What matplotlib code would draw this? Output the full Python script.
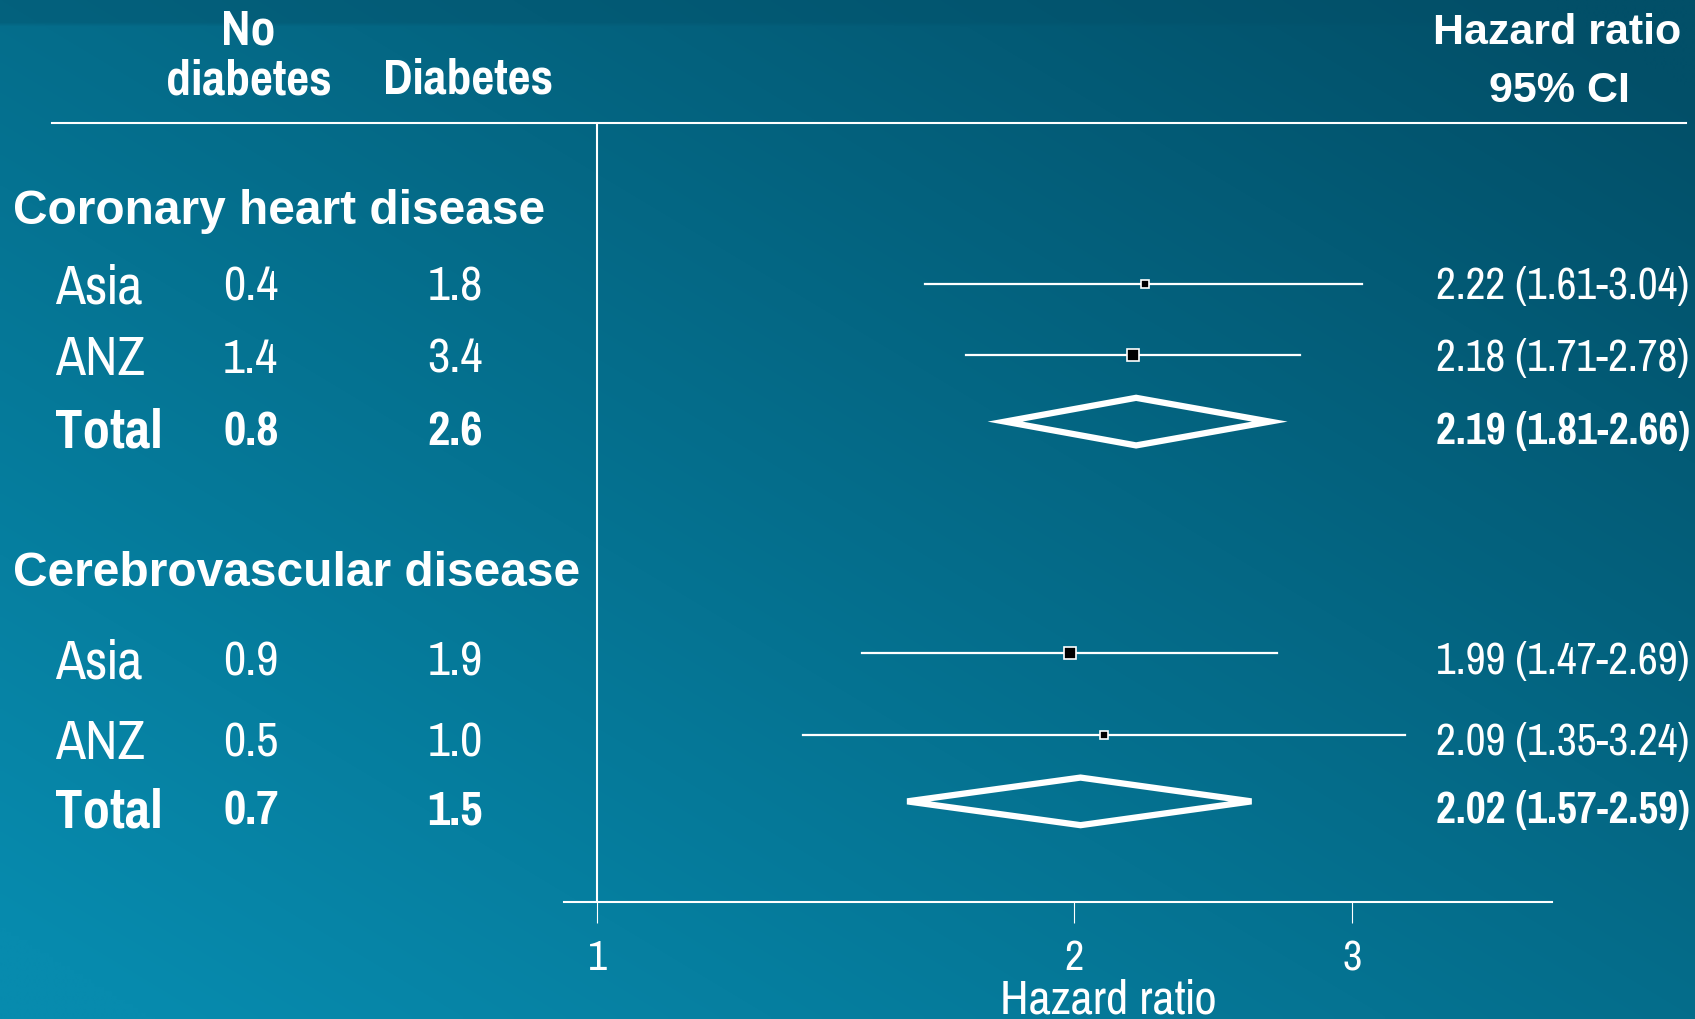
import matplotlib
matplotlib.use("Agg")
import matplotlib.pyplot as plt
import numpy as np
from matplotlib import font_manager as fm
from matplotlib.patches import Polygon

# Data
groups = ['Coronary heart disease', 'Cerebrovascular disease']
regions = ['Asia', 'ANZ', 'Total', 'Asia', 'ANZ', 'Total']
rate_no_diab = [0.4, 1.4, 0.8, 0.9, 0.5, 0.7]
rate_diab = [1.8, 3.4, 2.6, 1.9, 1.0, 1.5]
hr = [2.22, 2.18, 2.19, 1.99, 2.09, 2.02]
hr_lo = [1.61, 1.71, 1.81, 1.47, 1.35, 1.57]
hr_hi = [3.04, 2.78, 2.66, 2.69, 3.24, 2.59]
is_total = [False, False, True, False, False, True]
x_ticks = [1, 2, 3]

# Layout (reference units, 1568 x 944, y down)
W, H = 1568, 944
group_y = [192, 527]
row_y = [264, 329, 391, 605, 681, 742]
label_y = [262, 329, 396, 609, 684, 747]
marker_pt = [5.5, 8.5, 0, 8.5, 5.5, 0]


def pick_narrow():
    # an Arial Narrow look-alike that has both regular and bold faces
    have = {}
    for f in fm.fontManager.ttflist:
        have.setdefault(f.name, set()).add(f.weight if isinstance(f.weight, int) else 400)
    for name in ['Liberation Sans Narrow', 'Arial Narrow', 'Nimbus Sans Narrow',
                 'Pragati Narrow', 'PT Sans Narrow', 'Roboto Condensed',
                 'Archivo Narrow', 'Barlow Semi Condensed']:
        w = have.get(name, set())
        if any(x >= 700 for x in w) and any(x <= 500 for x in w):
            return name
    return 'Liberation Sans'


narrow = pick_narrow()
wide = 'Liberation Sans'
white = 'white'

fig = plt.figure(figsize=(16.95, 10.2), dpi=100)

# Background gradient
bg = fig.add_axes([0, 0, 1, 1])
u = np.linspace(0, 1, 400)[None, :]
v = np.linspace(0, 1, 240)[:, None]
t = np.clip(1.0 - 0.55 * u - 0.55 * (1 - v) + 0.05, 0, 1)
t[:6, :] *= 0.6
dark = np.array([0x02, 0x4f, 0x68]) / 255
light = np.array([0x07, 0x8b, 0xae]) / 255
img = dark + (light - dark) * t[..., None]
bg.imshow(img, extent=(0, W, H, 0), aspect='auto', interpolation='bilinear')
bg.set_xlim(0, W)
bg.set_ylim(H, 0)
bg.axis('off')

# Header
bg.plot([48, 1560], [115, 115], color=white, lw=1.5)
bg.text(230, 29, 'No', family=narrow, weight='bold', size=39, color=white, ha='center', va='center')
bg.text(230, 75, 'diabetes', family=narrow, weight='bold', size=39, color=white, ha='center', va='center')
bg.text(433, 74, 'Diabetes', family=narrow, weight='bold', size=39, color=white, ha='center', va='center')
bg.text(1440, 31, 'Hazard ratio', family=wide, weight='bold', size=31, color=white, ha='center', va='center')
bg.text(1443, 84, '95% CI', family=wide, weight='bold', size=31, color=white, ha='center', va='center')

for g, gy in zip(groups, group_y):
    bg.text(12, gy + 4, g, family=wide, weight='bold', size=34.5, color=white, ha='left', va='center')

for i, ty in enumerate(label_y):
    w = 'bold' if is_total[i] else 'normal'
    bg.text(51, ty, regions[i], family=narrow, weight=w, size=43, color=white, ha='left', va='center_baseline')
    bg.text(232, ty, f'{rate_no_diab[i]:.1f}', family=narrow, weight=w, size=38, color=white, ha='center', va='center_baseline')
    bg.text(421, ty, f'{rate_diab[i]:.1f}', family=narrow, weight=w, size=38, color=white, ha='center', va='center_baseline')
    bg.text(1563, ty, f'{hr[i]:.2f} ({hr_lo[i]:.2f}-{hr_hi[i]:.2f})', family=narrow, weight=w,
            size=34, color=white, ha='right', va='center_baseline')

bg.text(1025, 938, 'Hazard ratio', family=narrow, size=38, color=white, ha='center', va='baseline')

# Forest plot
ax = fig.add_axes([564 / 1695, 1 - 903 / 1020, (1552 - 564) / 1695, (903 - 124) / 1020])
ax.patch.set_alpha(0)
ax.set_xscale('log')
ax.set_xlim(0.953, 4.01)
ax.set_ylim(835, 115)
for s in ['top', 'left', 'right']:
    ax.spines[s].set_visible(False)
ax.spines['bottom'].set_color(white)
ax.spines['bottom'].set_linewidth(1.5)
ax.set_xticks(x_ticks)
ax.set_xticklabels([str(x) for x in x_ticks])
ax.xaxis.set_minor_locator(matplotlib.ticker.NullLocator())
ax.tick_params(axis='x', direction='out', length=15, width=0.8, color=white, labelcolor=white,
               labelsize=33, pad=11)
for lbl in ax.get_xticklabels():
    lbl.set_family(narrow)
ax.set_yticks([])
ax.axvline(1, color=white, lw=1.5)

for i, y in enumerate(row_y):
    if is_total[i]:
        d = Polygon([(hr_lo[i], y), (hr[i], y - 22), (hr_hi[i], y), (hr[i], y + 22)],
                     closed=True, fill=False, edgecolor=white, lw=4.5, joinstyle='miter')
        ax.add_patch(d)
    else:
        ax.plot([hr_lo[i], hr_hi[i]], [y, y], color=white, lw=1.6)
        ax.plot(hr[i], y, marker='s', ms=marker_pt[i], mfc='black', mec=white, mew=1.2)

fig.savefig('out.png', dpi=100)
